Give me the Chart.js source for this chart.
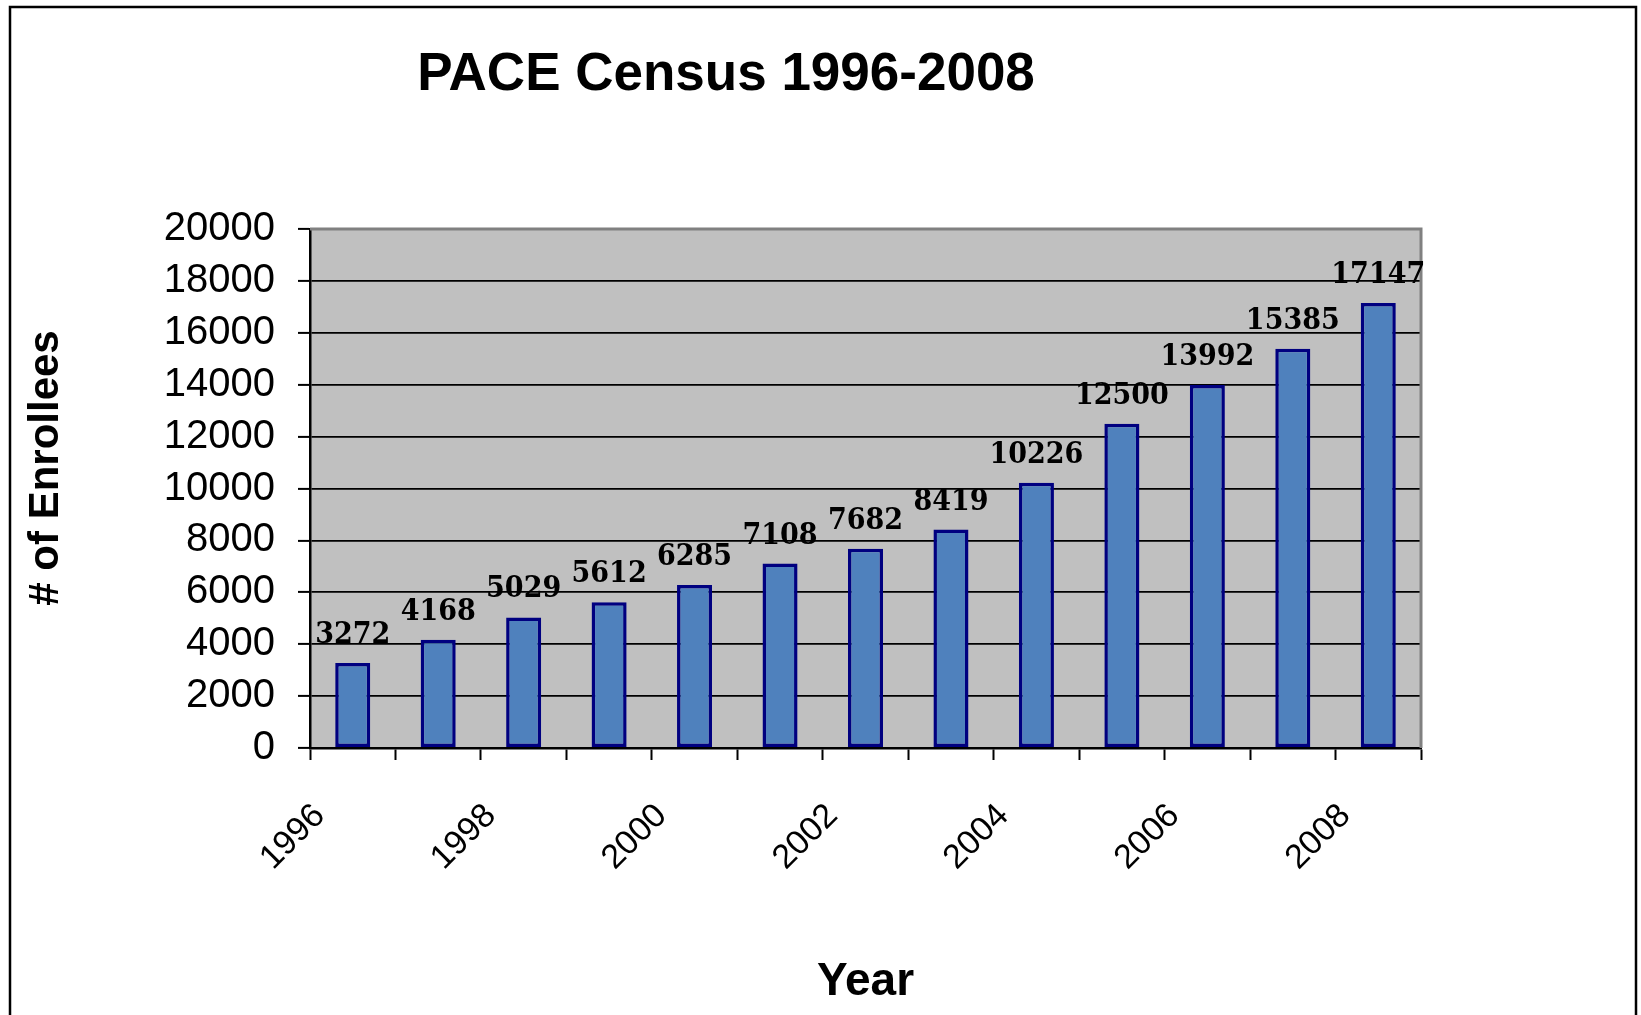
<!DOCTYPE html>
<html>
<head>
<meta charset="utf-8">
<title>PACE Census 1996-2008</title>
<script src="https://cdn.jsdelivr.net/npm/chart.js@4.4.1/dist/chart.umd.min.js"></script>
<style>
  html, body { margin: 0; padding: 0; background: #fff; }
  canvas { display: block; }
</style>
</head>
<body>
<canvas id="census" width="1641" height="1015"></canvas>
<script>
// data
const chartTitle = 'PACE Census 1996-2008';
const yTitle = '# of Enrollees';
const years = ['1996', '1997', '1998', '1999', '2000', '2001', '2002',
               '2003', '2004', '2005', '2006', '2007', '2008'];
const enrollees = [3272, 4168, 5029, 5612, 6285, 7108, 7682,
                   8419, 10226, 12500, 13992, 15385, 17147];
const shownYears = ['1996', '1998', '2000', '2002', '2004', '2006', '2008'];
const yMin = 0, yMax = 20000, yStep = 2000;

const sans = '"Liberation Sans", Arial, sans-serif';

// white page, outer frame, grey plot area, title and y title
const frame = {
    id: 'frame',
    beforeDraw(chart) {
        const ctx = chart.ctx, a = chart.chartArea;
        ctx.save();
        ctx.fillStyle = '#ffffff';
        ctx.fillRect(0, 0, chart.width, chart.height);
        ctx.strokeStyle = '#000';
        ctx.lineWidth = 2.5;
        ctx.strokeRect(10, 7, 1626, 1030);
        ctx.fillStyle = '#c0c0c0';
        ctx.fillRect(a.left, a.top, a.right - a.left, a.bottom - a.top);
        ctx.fillStyle = '#000';
        ctx.font = 'bold 53px ' + sans;
        ctx.textAlign = 'center';
        ctx.textBaseline = 'alphabetic';
        ctx.fillText(chartTitle, 726, 90);
        // y axis title, rotated
        ctx.translate(46, 468);
        ctx.rotate(-Math.PI / 2);
        ctx.font = 'bold 42px ' + sans;
        ctx.textBaseline = 'middle';
        ctx.fillText(yTitle, 0, 0);
        ctx.restore();
    },
    afterDatasetsDraw(chart) {
        const ctx = chart.ctx, a = chart.chartArea;
        ctx.save();
        // grey edge on top and right of the plot
        ctx.strokeStyle = '#808080';
        ctx.lineWidth = 3;
        ctx.beginPath();
        ctx.moveTo(a.left, a.top);
        ctx.lineTo(a.right, a.top);
        ctx.lineTo(a.right, a.bottom);
        ctx.stroke();
        // value labels over the bars
        ctx.fillStyle = '#000';
        ctx.font = 'bold 30px "DejaVu Serif Condensed", "DejaVu Serif", serif';
        ctx.textAlign = 'center';
        ctx.textBaseline = 'alphabetic';
        const meta = chart.getDatasetMeta(0);
        meta.data.forEach((bar, i) => {
            ctx.fillText(String(enrollees[i]), bar.x, bar.y - 20);
        });
        ctx.restore();
    }
};

const ctx = document.getElementById('census').getContext('2d');
const censusChart = new Chart(ctx, {
    type: 'bar',
    data: {
        labels: years,
        datasets: [{
            label: yTitle,
            data: enrollees,
            backgroundColor: '#4f81bd',
            borderColor: '#000080',
            borderWidth: 3.5,
            borderSkipped: false,
            barPercentage: 0.41,
            categoryPercentage: 1
        }]
    },
    options: {
        responsive: false,
        animation: false,
        devicePixelRatio: 1,
        layout: { padding: { left: 10, top: 229, right: 220, bottom: 0 } },
        plugins: {
            legend: { display: false },
            tooltip: { enabled: false }
        },
        scales: {
            x: {
                offset: true,
                grid: {
                    offset: true,
                    drawOnChartArea: false,
                    drawTicks: true,
                    tickLength: 12,
                    tickWidth: 2,
                    tickColor: '#000'
                },
                border: { color: '#000', width: 2.5 },
                ticks: {
                    autoSkip: false,
                    minRotation: 45,
                    maxRotation: 45,
                    padding: 36,
                    labelOffset: -33,
                    color: '#000',
                    font: { family: sans, size: 34 },
                    callback: function (value, index) {
                        const y = years[index];
                        return shownYears.includes(y) ? y : '';
                    }
                },
                title: {
                    display: true,
                    text: 'Year',
                    color: '#000',
                    font: { family: sans, size: 46, weight: 'bold', lineHeight: 1.2 },
                    padding: { top: 0, bottom: 5 }
                },
                afterFit(scale) { scale.height = 267; }
            },
            y: {
                min: yMin,
                max: yMax,
                grid: {
                    color: '#000',
                    lineWidth: 1.8,
                    drawTicks: true,
                    tickLength: 12,
                    tickWidth: 2,
                    tickColor: '#000'
                },
                border: { color: '#000', width: 2.5 },
                ticks: {
                    stepSize: yStep,
                    padding: 23,
                    color: '#000',
                    font: { family: sans, size: 40 },
                    callback: function (value) { return String(value); }
                },
                afterFit(scale) { scale.width = 300; }
            }
        }
    },
    plugins: [frame]
});
</script>
</body>
</html>
